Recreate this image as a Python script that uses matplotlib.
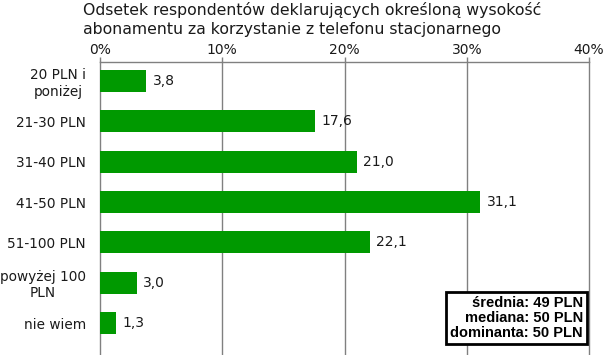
import matplotlib
matplotlib.use("Agg")
import matplotlib.pyplot as plt

categories = ["20 PLN i\nponiżej", "21-30 PLN", "31-40 PLN", "41-50 PLN", "51-100 PLN", "powyżej 100\nPLN", "nie wiem"]
values = [3.8, 17.6, 21.0, 31.1, 22.1, 3.0, 1.3]
xticks = [0, 10, 20, 30, 40]
title = "Odsetek respondentów deklarujących określoną wysokość\nabonamentu za korzystanie z telefonu stacjonarnego"
stats = "średnia: 49 PLN\nmediana: 50 PLN\ndominanta: 50 PLN"

W, H = 605, 355
fig = plt.figure(figsize=(W/100, H/100), dpi=100)
ax = fig.add_axes([100/W, 0, (589-100)/W, 1 - 62/H])

y = list(range(len(categories)))
ax.barh(y, values, height=0.55, color="#009900", zorder=3)
ax.set_ylim(6.79, -0.47)
ax.set_xlim(0, 40)

ax.xaxis.tick_top()
ax.set_xticks(xticks)
ax.set_xticklabels([f"{t}%" for t in xticks], fontsize=10, color="#1a1a1a")
ax.tick_params(axis="x", direction="out", length=3.6, color="#808080", width=1, pad=0)
ax.set_yticks(y)
ax.set_yticklabels(categories, fontsize=9.8, color="#1a1a1a", multialignment="center")
ax.tick_params(axis="y", length=0, pad=10)
ax.grid(axis="x", color="#808080", linewidth=1, zorder=0)
for gl in ax.get_xgridlines():
    gl.set_clip_on(False)
for s in ["right", "bottom", "left"]:
    ax.spines[s].set_visible(False)
ax.spines["top"].set_color("#808080")
ax.spines["top"].set_linewidth(1)

for yi, v in zip(y, values):
    ax.annotate(f"{v:.1f}".replace(".", ","), (v, yi), xytext=(4.5, 0), textcoords="offset points",
                va="center", ha="left", fontsize=10, color="#1a1a1a")

fig.text(83/W, 1 - 2/H, title, ha="left", va="top", fontsize=11.3, color="#1a1a1a", linespacing=1.35)

fig.text(583/W, 1 - 318/H, stats, ha="right", va="center", fontsize=10.5, fontweight="bold",
         family="Liberation Sans", linespacing=1.1,
         bbox=dict(boxstyle="square,pad=0.3", facecolor="white", edgecolor="black", linewidth=2))

fig.savefig("out.png", dpi=100)
